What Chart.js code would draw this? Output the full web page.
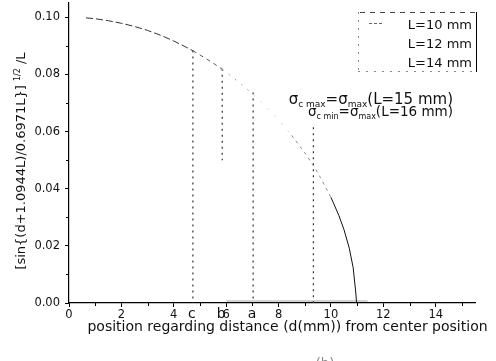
<!DOCTYPE html>
<html>
<head>
<meta charset="utf-8">
<script src="https://cdn.jsdelivr.net/npm/chart.js@4/dist/chart.umd.min.js"></script>
<style>
html, body { margin: 0; padding: 0; background: #fff; }
#wrap { width: 496px; height: 361px; }
</style>
</head>
<body>
<div id="wrap"><canvas id="chartContainer" width="496" height="361"></canvas></div>
<script>
// L=10 mm curve
var curveD = [0.65, 1, 1.5, 2, 2.5, 3, 3.5, 4, 4.5, 4.73, 5, 5.5, 5.85, 6, 6.5, 7.03, 7.5, 8, 8.5, 9, 9.33, 9.6, 10, 10.3, 10.5, 10.7, 10.85, 10.95, 10.98];
var curveV = [0.0998, 0.0995, 0.0988, 0.0979, 0.0968, 0.0954, 0.0937, 0.0917, 0.0894, 0.0883, 0.0868, 0.0840, 0.0818, 0.0808, 0.0772, 0.0730, 0.0690, 0.0641, 0.0587, 0.0526, 0.0481, 0.0439, 0.0370, 0.0307, 0.0256, 0.0192, 0.0123, 0.0035, 0.0];

// dotted position markers a, b, c
var markD = [4.73, 5.85, 7.03, 9.33];
var markTop = [0.0884, 0.0820, 0.0737, 0.0615];
var markBottom = [0.0, 0.0500, 0.0, 0.0];
var markNames = ['c', 'b', 'a', ''];

// faint grey trace lying along the axis
var baseD = [6.0, 11.4];
var baseV = [0.0007, 0.0007];

var legendNames = ['L=10 mm', 'L=12 mm', 'L=14 mm'];
var xMinor = [1, 3, 5, 7, 9, 11, 13, 15];
var yMinor = [0.01, 0.03, 0.05, 0.07, 0.09];

Chart.defaults.font.family = 'DejaVu Sans';
Chart.defaults.color = '#111';

function segStyle(x) {
    if (x < 4.7) return ['#333', [7, 3]];
    if (x < 5.8) return ['#555', [4, 4]];
    if (x < 7) return ['#aaa', [2, 6]];
    if (x < 8.4) return ['#d0d0d0', [2, 8]];
    if (x < 9.9) return ['#888', [3, 4]];
    return ['#111', []];
}

var datasets = [];
datasets.push({
    data: curveD.map(function(d, i){ return {x: d, y: curveV[i]}; }),
    showLine: true, pointRadius: 0, borderWidth: 1, borderColor: '#222',
    segment: {
        borderColor: function(c){ return segStyle(c.p0.parsed.x)[0]; },
        borderDash: function(c){ return segStyle(c.p0.parsed.x)[1]; }
    }
});
for (var i = 0; i < markD.length; i++) {
    datasets.push({
        data: [{x: markD[i], y: markTop[i]}, {x: markD[i], y: markBottom[i]}],
        showLine: true, pointRadius: 0, borderWidth: 1.2,
        borderColor: '#333', borderDash: [2, 4]
    });
}
datasets.push({
    data: baseD.map(function(d, i){ return {x: d, y: baseV[i]}; }),
    showLine: true, pointRadius: 0, borderWidth: 1.5, borderColor: 'rgba(150,150,150,0.55)'
});

function drawRich(ctx, parts, x, y) {
    var px = x;
    parts.forEach(function(p){
        ctx.font = p.f + 'px "DejaVu Sans"';
        ctx.fillText(p.t, px, y + (p.dy || 0));
        px += ctx.measureText(p.t).width;
    });
}
function richWidth(ctx, parts) {
    var w = 0;
    parts.forEach(function(p){
        ctx.font = p.f + 'px "DejaVu Sans"';
        w += ctx.measureText(p.t).width;
    });
    return w;
}

var extras = {
    id: 'extras',
    afterDraw: function(chart) {
        var ctx = chart.ctx, xs = chart.scales.x, ys = chart.scales.y;
        var area = chart.chartArea;
        ctx.save();
        // minor ticks
        ctx.strokeStyle = '#000'; ctx.lineWidth = 1;
        ctx.beginPath();
        xMinor.forEach(function(v){
            var px = Math.round(xs.getPixelForValue(v)) + 0.5;
            ctx.moveTo(px, area.bottom); ctx.lineTo(px, area.bottom + 3);
        });
        yMinor.forEach(function(v){
            var py = Math.round(ys.getPixelForValue(v)) + 0.5;
            ctx.moveTo(area.left - 3, py); ctx.lineTo(area.left, py);
        });
        ctx.stroke();

        ctx.fillStyle = '#111';
        ctx.textBaseline = 'alphabetic';

        // y title
        ctx.save();
        ctx.translate(20, 161);
        ctx.rotate(-Math.PI / 2);
        var yParts = [
            {t: '[sin{(d+1.0944L)/0.6971L}]', f: 13},
            {t: ' ', f: 13},
            {t: '1/2', f: 8, dy: -5},
            {t: ' /L', f: 13}
        ];
        drawRich(ctx, yParts, -richWidth(ctx, yParts) / 2, 4.5);
        ctx.restore();

        // x title
        ctx.font = '14px "DejaVu Sans"';
        ctx.textAlign = 'center';
        ctx.fillText('position regarding distance (d(mm)) from center position', 287.5, 331);

        // a, b, c labels under the axis
        markNames.forEach(function(n, i){
            if (!n) return;
            ctx.fillText(n, xs.getPixelForValue(markD[i]) - 1, 318);
        });

        // caption fragment at the bottom edge
        ctx.font = '13px "DejaVu Sans"';
        ctx.fillStyle = '#888';
        ctx.textBaseline = 'top';
        ctx.fillText('(b)', 325, 357);

        // annotations
        ctx.fillStyle = '#111';
        ctx.textBaseline = 'alphabetic';
        ctx.textAlign = 'left';
        var l1 = [
            {t: '\u03c3', f: 15}, {t: 'c max', f: 9, dy: 3},
            {t: '=\u03c3', f: 15}, {t: 'max', f: 9, dy: 3},
            {t: '(L=15 mm)', f: 15}
        ];
        var l2 = [
            {t: '\u03c3', f: 13.5}, {t: 'c min', f: 8, dy: 3},
            {t: '=\u03c3', f: 13.5}, {t: 'max', f: 8, dy: 3},
            {t: '(L=16 mm)', f: 13.5}
        ];
        drawRich(ctx, l1, 453 - richWidth(ctx, l1), 104);
        drawRich(ctx, l2, 453 - richWidth(ctx, l2), 116);

        // legend box
        ctx.lineWidth = 1;
        ctx.strokeStyle = '#444';
        ctx.setLineDash([5, 5]);
        ctx.beginPath(); ctx.moveTo(360, 12.5); ctx.lineTo(476, 12.5); ctx.stroke();
        ctx.strokeStyle = '#888';
        ctx.setLineDash([2, 6]);
        ctx.beginPath(); ctx.moveTo(358.5, 12); ctx.lineTo(358.5, 72); ctx.stroke();
        ctx.beginPath(); ctx.moveTo(358, 71.5); ctx.lineTo(476, 71.5); ctx.stroke();
        ctx.setLineDash([]);
        ctx.strokeStyle = '#000';
        ctx.beginPath(); ctx.moveTo(476.5, 12); ctx.lineTo(476.5, 72); ctx.stroke();
        ctx.strokeStyle = '#666';
        ctx.setLineDash([3, 2]);
        ctx.beginPath(); ctx.moveTo(369, 23.5); ctx.lineTo(383, 23.5); ctx.stroke();
        ctx.setLineDash([]);
        ctx.font = '13px "DejaVu Sans"';
        ctx.textAlign = 'right';
        ctx.fillStyle = '#111';
        legendNames.forEach(function(n, i){
            ctx.fillText(n, 472, 29 + i * 19);
        });
        ctx.restore();
    }
};

var myChart = new Chart('chartContainer', {
    type: 'scatter',
    data: { datasets: datasets },
    options: {
        responsive: false,
        animation: false,
        layout: { padding: { top: 3, right: 21, left: 0, bottom: 0 } },
        plugins: { legend: { display: false }, tooltip: { enabled: false } },
        scales: {
            x: {
                type: 'linear', min: 0, max: 15.5,
                afterFit: function(s){ s.height = 58; s.paddingLeft = 0; s.paddingRight = 0; },
                grid: { drawOnChartArea: false, drawTicks: true, tickLength: 4, color: '#000' },
                border: { display: true, color: '#000', width: 1.2 },
                ticks: { stepSize: 2, includeBounds: false, padding: 1, maxRotation: 0,
                         font: { size: 11.5 }, color: '#111' }
            },
            y: {
                type: 'linear', min: 0, max: 0.105,
                afterFit: function(s){ s.width = 69; s.paddingTop = 0; s.paddingBottom = 0; },
                grid: { drawOnChartArea: false, drawTicks: true, tickLength: 4, color: '#000' },
                border: { display: true, color: '#000', width: 1.2 },
                ticks: { stepSize: 0.02, includeBounds: false, padding: 5,
                         font: { size: 11.5 }, color: '#111',
                         callback: function(v){ return v.toFixed(2); } }
            }
        }
    },
    plugins: [extras]
});
</script>
</body>
</html>
